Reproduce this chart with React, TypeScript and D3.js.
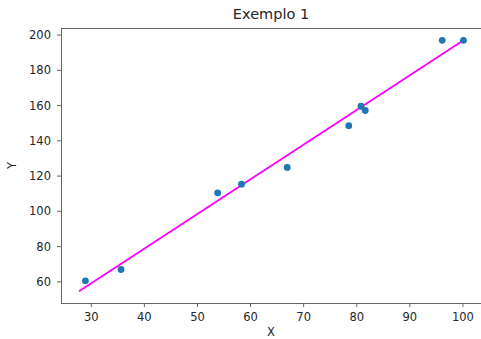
import React from "react";
import * as d3 from "d3";

// scatter points
const xValues = [28.9, 35.6, 53.8, 58.3, 66.9, 78.5, 80.8, 81.6, 96.1, 100.1];
const yValues = [60.6, 67.0, 110.5, 115.4, 124.9, 148.6, 159.6, 157.2, 197.0, 197.0];

// fitted line end points
const lineX = [27.7, 100.1];
const lineY = [54.7, 197.0];

const xTicks = [30, 40, 50, 60, 70, 80, 90, 100];
const yTicks = [60, 80, 100, 120, 140, 160, 180, 200];

const W = 481;
const H = 339;
const margin = { top: 28, right: 0, bottom: 36, left: 61 };
const FONT = "DejaVu Sans, sans-serif";

export default function App() {
  const x = d3.scaleLinear().domain([24.3, 103.4]).range([margin.left, W - margin.right]);
  const y = d3.scaleLinear().domain([48, 204]).range([H - margin.bottom, margin.top]);

  const line = d3
    .line<number>()
    .x((d) => x(d))
    .y((_, i) => y(lineY[i]));

  const left = margin.left;
  const bottom = H - margin.bottom;
  const top = margin.top;
  const right = W - margin.right;

  return (
    <svg
      width={W}
      height={H}
      style={{ position: "absolute", left: 0, top: 0, background: "#fff" }}
      fontFamily={FONT}
    >
      {/* title */}
      <text x={(left + right) / 2} y={19} textAnchor="middle" fontSize={14.5} fill="#262626">
        Exemplo 1
      </text>

      {/* frame */}
      <line x1={left} x2={right} y1={top + 0.5} y2={top + 0.5} stroke="#555" strokeWidth={0.9} />
      <line x1={left} x2={right} y1={bottom + 0.5} y2={bottom + 0.5} stroke="#555" strokeWidth={0.9} />
      <line x1={left + 0.5} x2={left + 0.5} y1={top} y2={bottom} stroke="#555" strokeWidth={0.9} />

      {/* x axis */}
      {xTicks.map((t) => (
        <g key={t} transform={`translate(${x(t)},${bottom})`}>
          <line y1={0} y2={4} stroke="#555" strokeWidth={0.9} />
          <text y={18} textAnchor="middle" fontSize={11.5} fill="#262626">
            {t}
          </text>
        </g>
      ))}
      <text x={(left + right) / 2} y={335.5} textAnchor="middle" fontSize={11.5} fill="#262626">
        X
      </text>

      {/* y axis */}
      {yTicks.map((t) => (
        <g key={t} transform={`translate(${left},${y(t)})`}>
          <line x1={0} x2={-4} stroke="#555" strokeWidth={0.9} />
          <text x={-10} dy="0.36em" textAnchor="end" fontSize={11.5} fill="#262626">
            {t}
          </text>
        </g>
      ))}
      <text
        transform={`translate(16,${(top + bottom) / 2}) rotate(-90)`}
        textAnchor="middle"
        fontSize={11.5}
        fill="#262626"
      >
        Y
      </text>

      {/* regression line */}
      <path d={line(lineX) ?? ""} fill="none" stroke="#ff00ff" strokeWidth={1.8} />

      {/* points */}
      {xValues.map((v, i) => (
        <circle key={i} cx={x(v)} cy={y(yValues[i])} r={3.4} fill="#1f77b4" />
      ))}
    </svg>
  );
}
